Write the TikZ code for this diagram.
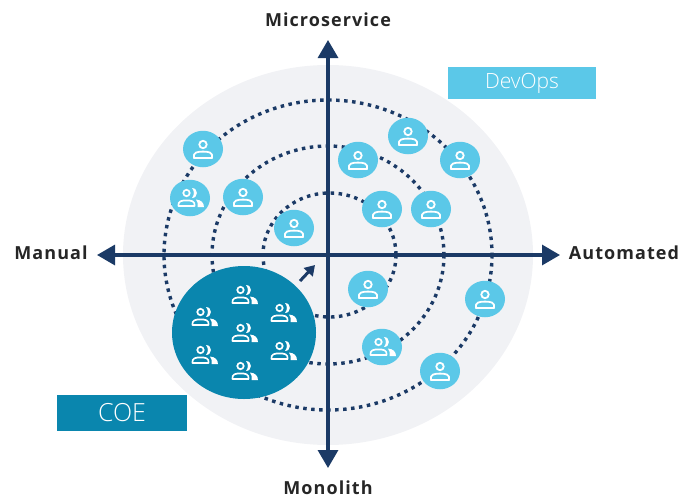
\documentclass[tikz,border=0pt]{standalone}
\usepackage{fontspec}
\setmainfont{Open Sans}
\newfontfamily\lightfont{Open Sans Light}
\usetikzlibrary{arrows.meta,shapes.geometric}
\definecolor{navy}{HTML}{1B3A66}
\definecolor{sky}{HTML}{5BC8E8}
\definecolor{teal}{HTML}{0A86AE}
\definecolor{field}{HTML}{F1F2F5}
\tikzset{
ring/.style={draw=navy,line width=3.4pt,dash pattern=on 3.5pt off 4.5pt},
axis/.style={draw=navy,line width=3.2pt,{Triangle[length=18pt,width=20pt]}-{Triangle[length=18pt,width=20pt]}},
member/.style={ellipse,fill=sky,inner sep=0pt,minimum width=40pt,minimum height=36.5pt},
axislabel/.style={font=\bfseries\fontsize{18}{20}\selectfont\addfontfeature{LetterSpace=6},text=black!85,inner sep=0pt},
tag/.style={inner sep=0pt,minimum height=32pt,text=white,font=\lightfont\fontsize{21}{24}\selectfont},
pics/person/.style={code={
\draw[white,line width=1.8pt] (0,-4.5) circle (3.7pt);
\draw[white,line width=1.8pt,line join=round] (-9,9) .. controls (-10.5,3) and (-5,2.6) .. (0,2.6) .. controls (5,2.6) and (10.5,3) .. (9,9) -- cycle;
}},
pics/group/.style={code={
\draw[white,line width=1.7pt] (-3.5,-5) circle (3.2pt);
\fill[white] (2,-10) .. controls (8.5,-10) and (8.5,0) .. (2,0) .. controls (4.5,-3) and (4.5,-7) .. (2,-10) -- cycle;
\draw[white,line width=1.7pt,line join=round] (-11.5,8) .. controls (-12.5,3) and (-8,2.4) .. (-3.5,2.4) .. controls (1,2.4) and (5.5,3) .. (4.5,8) -- cycle;
\fill[white] (6,1.5) .. controls (11,2) and (14,4.5) .. (14,9.2) -- (7.5,9.2) .. controls (8,5.5) and (7.5,3.5) .. (6,1.5) -- cycle;
}}
}
\begin{document}
\begin{tikzpicture}[x=1pt,y=-1pt]
\useasboundingbox (0,0) rectangle (682,498);
\fill[field] (328,255) ellipse [x radius=205,y radius=190];
\draw[ring] (328,255) ellipse [x radius=164,y radius=155];
\draw[ring] (328,255) ellipse [x radius=116,y radius=109];
\draw[ring] (329.5,255) ellipse [x radius=66.5,y radius=62];

\coordinate (west) at (97,255);
\coordinate (east) at (560,255);
\coordinate (north) at (328,40);
\coordinate (south) at (328,468);
\draw[axis] (west) -- (east);
\draw[axis] (south) -- (north);

\foreach \name/\px/\py in {a/203/149,b/243/197,c/294/228,d/358/160,e/408/136,f/460/160,g/382/209,h/431/209,i/368/289,j/485/299,k/440/371}{
\node[member] (\name) at (\px,\py) {};
\pic at (\name) {person};
}
\foreach \name/\px/\py in {l/190/198,m/382/347}{
\node[member] (\name) at (\px,\py) {};
\pic at (\name) {group};
}

\node[ellipse,fill=teal,inner sep=0pt,minimum width=144pt,minimum height=133pt] (coe) at (244,332.5) {};
\foreach \px/\py in {244/295,204/317,283/313,244/333,204/355,283/351,244/371}{
\pic at (\px,\py) {group};
}
\coordinate (from) at (300,281);
\coordinate (to) at (315,265);
\draw[navy,line width=3pt,-{Triangle[length=10pt,width=12pt]}] (from) -- (to);

\node[axislabel] (micro) at (328,20) {Microservice};
\node[axislabel] (mono) at (328,488) {Monolith};
\node[axislabel] (manual) at (51,253) {Manual};
\node[axislabel] (auto) at (624,253) {Automated};

\node[tag,fill=sky,minimum width=148pt] (devops) at (522,83) {DevOps};
\node[tag,fill=teal,minimum width=130pt,minimum height=36pt,font=\lightfont\fontsize{25}{28}\selectfont] (coetag) at (122,413) {COE};
\end{tikzpicture}
\end{document}
